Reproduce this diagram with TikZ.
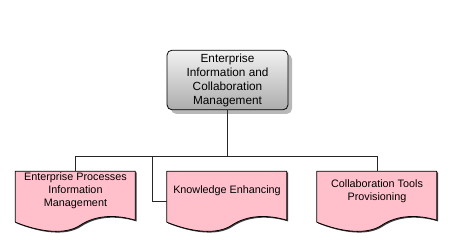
\documentclass[tikz,border=0pt]{standalone}
\usepackage{fontspec}
\setmainfont{Liberation Sans}
\usetikzlibrary{calc,shadows,backgrounds}

\definecolor{boxtop}{RGB}{242,242,242}
\definecolor{boxbot}{RGB}{172,172,172}
\definecolor{docpink}{RGB}{255,192,203}

% outline of a document symbol, relative to its text node's south west corner
\newcommand\docoutline{(0,-40) -- (120,-40) -- (120,9)
  .. controls (100,3) and (80,4) .. (65,14)
  .. controls (50,24) and (25,21) .. (0,11) -- cycle}

\tikzset{
  mainbox/.style={rectangle, rounded corners=5pt, draw=black, line width=0.8pt,
    top color=boxtop, bottom color=boxbot, minimum width=121pt, minimum height=57pt,
    align=center, font=\fontsize{11.8}{14}\selectfont,
    drop shadow={shadow xshift=4pt, shadow yshift=-4pt, fill=black!28, opacity=1}},
  doctext/.style={rectangle, minimum width=120pt, minimum height=40pt, inner sep=0pt,
    align=center, font=\fontsize{10.8}{13}\selectfont},
  docbody/.style={fill=docpink, draw=black, line width=0.8pt, line join=round},
  docshadow/.style={fill=black!75},
  conn/.style={draw=black!85, line width=0.8pt},
}

\begin{document}
\begin{tikzpicture}[x=1pt, y=-1pt]
\useasboundingbox (0,0) rectangle (455,248);

% root
\node[mainbox] (top) at (227.5,80) {Enterprise\\Information and\\Collaboration\\Management};

% child labels
\node[doctext] (d1) at (75.5,191) {Enterprise Processes\\Information\\Management};
\node[doctext] (d2) at (227,191) {Knowledge Enhancing};
\node[doctext] (d3) at (377,191) {Collaboration Tools\\Provisioning};

% connectors
\coordinate (j) at (227.5,156);
\coordinate (k) at (152,156);
\coordinate (d2in) at ($(d2.west)+(0,10)$);
\draw[conn] (top.south) -- (j);
\draw[conn] (d1.north) -- (d1.north |- j) -- (d3.north |- j) -- (d3.north);
\draw[conn] (k) |- (d2in);

% document symbols behind the labels
\begin{scope}[on background layer]
\foreach \d in {d1,d2,d3}{
  \begin{scope}[shift={(\d.south west)}]
    \path[docshadow] [shift={(1.2,1.2)}] \docoutline;
    \path[docbody] \docoutline;
  \end{scope}
}
\end{scope}
\end{tikzpicture}
\end{document}
